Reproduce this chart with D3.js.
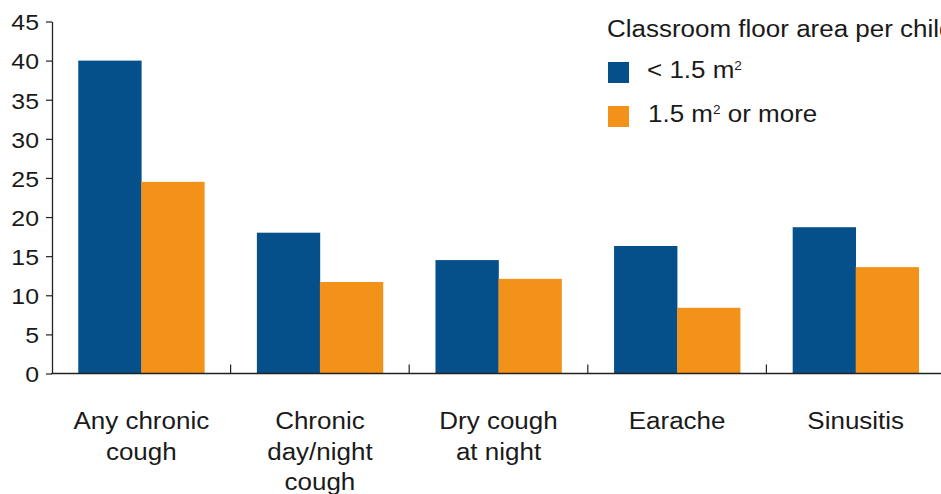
<!DOCTYPE html>
<html>
<head>
<meta charset="utf-8">
<script src="https://cdn.jsdelivr.net/npm/d3@7"></script>
<style>
  body { margin: 0; background: #fff; }
  svg { display: block; font-family: "Liberation Sans", Arial, Helvetica, sans-serif; }
</style>
</head>
<body>
<script>
// chart data
var categories = [["Any chronic", "cough"], ["Chronic", "day/night", "cough"], ["Dry cough", "at night"], ["Earache"], ["Sinusitis"]];
var seriesNames = ["small", "large"];
var smallArea = [40, 18, 14.5, 16.3, 18.7];   // < 1.5 m2
var largeArea = [24.5, 11.7, 12.1, 8.4, 13.6]; // 1.5 m2 or more
var yTicks = [0, 5, 10, 15, 20, 25, 30, 35, 40, 45];
var colors = ["#054f8b", "#f39219"];

var width = 941, height = 494;
var sx = 1.13; // the original type is a little wide

var svg = d3.select("body").append("svg")
  .attr("width", width)
  .attr("height", height);

var keys = categories.map(function(c) { return c.join(" "); });

var x0 = d3.scaleBand()
  .domain(keys)
  .range([52, 945])
  .padding(0);

var x1 = d3.scaleBand()
  .domain(seriesNames)
  .range([0, x0.bandwidth()])
  .paddingInner(0)
  .paddingOuter(0.417);

var y = d3.scaleLinear()
  .domain([0, 45])
  .range([373.5, 21.5]);

var rows = keys.map(function(k, i) {
  return { key: k, values: [smallArea[i], largeArea[i]] };
});

// bars
var groups = svg.selectAll("g.group")
  .data(rows)
  .enter().append("g")
  .attr("class", "group")
  .attr("transform", function(d) { return "translate(" + x0(d.key) + ",0)"; });

groups.selectAll("rect")
  .data(function(d) { return d.values.map(function(v, j) { return { s: seriesNames[j], v: v, j: j }; }); })
  .enter().append("rect")
  .attr("x", function(d) { return x1(d.s); })
  .attr("width", x1.bandwidth() + 0.3)
  .attr("y", function(d) { return y(d.v); })
  .attr("height", function(d) { return y(0) - y(d.v); })
  .attr("fill", function(d) { return colors[d.j]; });

// y axis
var yAxis = svg.append("g")
  .attr("transform", "translate(52,0)")
  .call(d3.axisLeft(y).tickValues(yTicks).tickSize(6).tickSizeOuter(0));

yAxis.select(".domain").attr("stroke", "#222").attr("stroke-width", 1.3);
yAxis.selectAll(".tick line").attr("stroke", "#222").attr("stroke-width", 1.2);
yAxis.selectAll(".tick text")
  .attr("x", null)
  .attr("dy", "0.38em")
  .attr("transform", "translate(-13,0) scale(" + sx + ",1)")
  .style("font-size", "22px")
  .attr("fill", "#1a1a1a");

// x axis line and group separators
svg.append("line")
  .attr("x1", 51.4).attr("x2", width)
  .attr("y1", y(0)).attr("y2", y(0))
  .attr("stroke", "#222").attr("stroke-width", 1.3);

svg.selectAll("line.sep")
  .data(keys.slice(1))
  .enter().append("line")
  .attr("class", "sep")
  .attr("x1", function(d) { return x0(d); })
  .attr("x2", function(d) { return x0(d); })
  .attr("y1", y(0)).attr("y2", y(0) - 9)
  .attr("stroke", "#222").attr("stroke-width", 1.2);

// category labels
var labels = svg.selectAll("g.cat")
  .data(categories)
  .enter().append("g")
  .attr("class", "cat");

labels.each(function(lines, i) {
  var cx = x0(keys[i]) + x0.bandwidth() / 2;
  d3.select(this).selectAll("text")
    .data(lines)
    .enter().append("text")
    .attr("text-anchor", "middle")
    .attr("transform", function(d, k) { return "translate(" + cx + "," + (429 + k * 30.5) + ") scale(" + sx + ",1)"; })
    .style("font-size", "23px")
    .attr("fill", "#1a1a1a")
    .text(function(d) { return d; });
});

// legend
svg.append("text")
  .attr("transform", "translate(607,37) scale(" + sx + ",1)")
  .style("font-size", "23px")
  .attr("fill", "#1a1a1a")
  .text("Classroom floor area per child");

var legendItems = [
  { pre: "< 1.5 m", post: "" },
  { pre: "1.5 m", post: " or more" }
];
var legendY = [62, 106];
var legendTextX = [647, 648];

var leg = svg.selectAll("g.leg")
  .data(legendItems)
  .enter().append("g")
  .attr("class", "leg");

leg.append("rect")
  .attr("x", 608)
  .attr("y", function(d, i) { return legendY[i]; })
  .attr("width", 21).attr("height", 21)
  .attr("fill", function(d, i) { return colors[i]; });

var lt = leg.append("text")
  .attr("transform", function(d, i) { return "translate(" + legendTextX[i] + "," + (legendY[i] + 16) + ") scale(" + sx + ",1)"; })
  .style("font-size", "23px")
  .attr("fill", "#1a1a1a");

lt.append("tspan").text(function(d) { return d.pre; });
lt.append("tspan")
  .attr("dy", -8)
  .style("font-size", "12px")
  .text("2");
lt.append("tspan")
  .attr("dy", 8)
  .text(function(d) { return d.post; });
</script>
</body>
</html>
